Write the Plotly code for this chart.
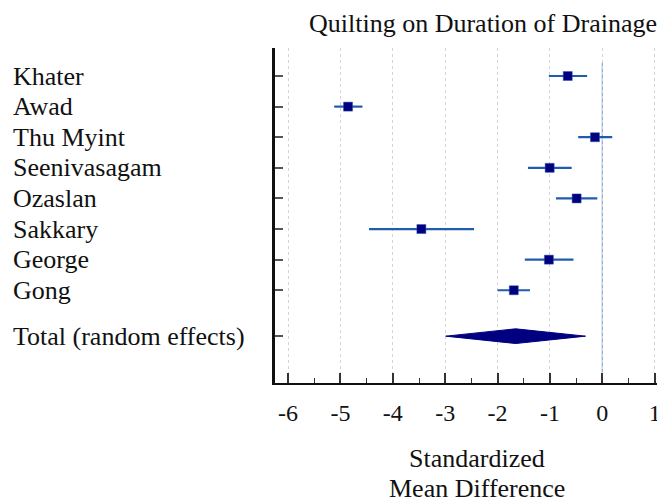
import plotly.graph_objects as go

studies = ["Khater", "Awad", "Thu Myint", "Seenivasagam", "Ozaslan", "Sakkary", "George", "Gong"]
smd = [-0.66, -4.855, -0.14, -1.005, -0.49, -3.455, -1.02, -1.69]
ci_low = [-1.02, -5.12, -0.46, -1.42, -0.885, -4.455, -1.48, -2.00]
ci_high = [-0.29, -4.58, 0.19, -0.585, -0.095, -2.45, -0.55, -1.38]
total_label = "Total (random effects)"
total_smd = -1.655
total_low = -2.99
total_high = -0.32
x_ticks = [-6, -5, -4, -3, -2, -1, 0, 1]

rows = list(range(1, len(studies) + 1))
total_row = len(studies) + 1.5
serif = "Liberation Serif, Times New Roman, serif"
TXT = "#111111"

# page body has an 8px default margin; layout numbers below compensate for it
L, T, PW, PH = 267, 40, 398, 335


def px_x(screen_x):
    return (screen_x - 8 - L) / PW


def px_y(screen_y):
    return 1 - (screen_y - 8 - T) / PH


fig = go.Figure()

fig.add_trace(go.Scatter(
    x=smd, y=rows, mode="markers",
    marker=dict(symbol="square", size=9, color="#000080",
                line=dict(width=0.5, color="#3050a0")),
    error_x=dict(type="data", symmetric=False,
                 array=[h - m for h, m in zip(ci_high, smd)],
                 arrayminus=[m - l for m, l in zip(smd, ci_low)],
                 width=0, thickness=2.2, color="#1f5cb0"),
    showlegend=False, hoverinfo="skip"))

dh = 0.24
fig.add_trace(go.Scatter(
    x=[total_low, total_smd, total_high, total_smd, total_low],
    y=[total_row, total_row - dh, total_row, total_row + dh, total_row],
    mode="lines", fill="toself", fillcolor="#000080",
    line=dict(color="#000080", width=1), showlegend=False, hoverinfo="skip"))

fig.add_shape(type="line", x0=0, x1=0, y0=0.55, y1=11.03, xref="x", yref="y",
              line=dict(color="#7ea8dc", width=1.2), layer="below")

labels = studies + [total_label]
label_rows = rows + [total_row]
for lab, r in zip(labels, label_rows):
    fig.add_annotation(text=lab, x=px_x(11), xref="paper", y=r, yref="y",
                       xanchor="left", yanchor="middle", showarrow=False,
                       font=dict(family=serif, size=26, color=TXT))

fig.add_annotation(text="Quilting on Duration of Drainage", x=px_x(483), xref="paper",
                   y=px_y(23), yref="paper", xanchor="center", yanchor="middle",
                   showarrow=False, font=dict(family=serif, size=26, color=TXT))
fig.add_annotation(text="Standardized", x=px_x(477), xref="paper",
                   y=px_y(458), yref="paper", xanchor="center", yanchor="middle",
                   showarrow=False, font=dict(family=serif, size=26, color=TXT))
fig.add_annotation(text="Mean Difference", x=px_x(477), xref="paper",
                   y=px_y(488), yref="paper", xanchor="center", yanchor="middle",
                   showarrow=False, font=dict(family=serif, size=26, color=TXT))

fig.update_layout(
    width=665, height=504,
    margin=dict(l=L, r=665 - L - PW, t=T, b=504 - T - PH, autoexpand=False),
    paper_bgcolor="white", plot_bgcolor="white",
    xaxis=dict(range=[-6.25, 1.35], tickvals=x_ticks, ticktext=[str(v) for v in x_ticks],
               ticks="inside", ticklen=10, tickwidth=1.5, tickcolor="#333333",
               minor=dict(tickvals=[v + 0.5 for v in x_ticks], ticks="inside", ticklen=5,
                          tickwidth=1.2, tickcolor="#333333", showgrid=False),
               showgrid=True, gridcolor="#d4d4d4", griddash="dot", gridwidth=1,
               zeroline=False, showline=True, linecolor="#111111", linewidth=2,
               tickfont=dict(family=serif, size=24, color=TXT), ticklabelstandoff=7),
    yaxis=dict(range=[11.03, 0.085], tickvals=label_rows, showticklabels=False,
               ticks="inside", ticklen=8, tickwidth=1.5, tickcolor="#555555",
               showgrid=False, zeroline=False, showline=True, linecolor="#111111", linewidth=2.5),
)

fig.write_html("out.html")
